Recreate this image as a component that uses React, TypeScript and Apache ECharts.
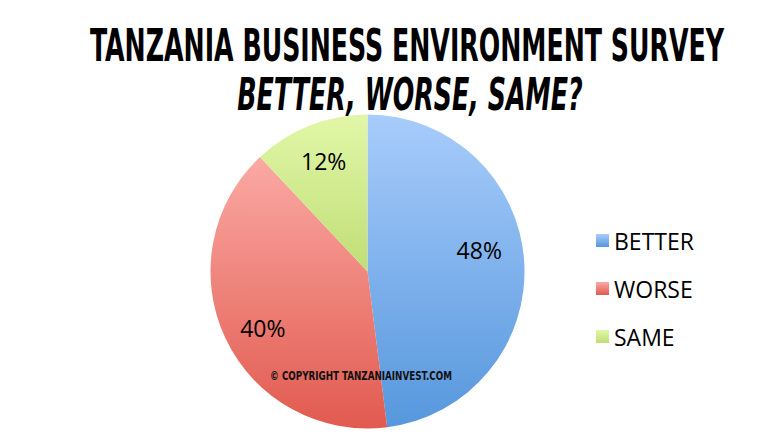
import React, { useEffect, useRef } from "react";
import * as echarts from "echarts";

const titleText = "TANZANIA BUSINESS ENVIRONMENT SURVEY";
const subtitleText = "BETTER, WORSE, SAME?";
const copyrightText = "© COPYRIGHT TANZANIAINVEST.COM";
const categories = ["BETTER", "WORSE", "SAME"];
const values = [48, 40, 12];
const topColors = ["#a8ccfb", "#fba9a4", "#e1f7a8"];
const bottomColors = ["#5697dd", "#e15a4f", "#c0de76"];
const labelOffsets = [[-7, -14], [3, 6], [0, 0]];

export default function App() {
  const ref = useRef<HTMLDivElement>(null);
  useEffect(() => {
    if (!ref.current) return;
    const chart = echarts.init(ref.current, undefined, { renderer: "svg" });
    const grad = (i: number) =>
      new echarts.graphic.LinearGradient(0, 0, 0, 1, [
        { offset: 0, color: topColors[i] },
        { offset: 1, color: bottomColors[i] },
      ]);
    const data = categories.map((name, i) => ({
      name,
      value: values[i],
      itemStyle: { color: grad(i) },
    }));
    const labelData = categories.map((name, i) => ({
      name,
      value: values[i],
      itemStyle: { color: "rgba(0,0,0,0)" },
      label: { offset: labelOffsets[i] },
    }));
    chart.setOption({
      animation: false,
      backgroundColor: "#ffffff",
      graphic: [
        {
          type: "text",
          x: 407,
          y: 46,
          scaleX: 0.638,
          style: {
            text: titleText,
            fontFamily: "DejaVu Sans Condensed",
            fontWeight: "bold",
            fontSize: 44,
            fill: "#000",
            align: "center",
            verticalAlign: "middle",
          },
        },
        {
          type: "text",
          x: 410,
          y: 95,
          scaleX: 0.64,
          style: {
            text: subtitleText,
            fontFamily: "DejaVu Sans Condensed",
            fontWeight: "bold",
            fontStyle: "italic",
            fontSize: 44,
            fill: "#000",
            align: "center",
            verticalAlign: "middle",
          },
          z: 10,
        },
        {
          type: "text",
          x: 361,
          y: 376,
          scaleX: 0.78,
          z: 100,
          style: {
            text: copyrightText,
            fontFamily: "DejaVu Sans Condensed",
            fontWeight: "bold",
            fontSize: 12.5,
            fill: "#111",
            align: "center",
            verticalAlign: "middle",
          },
        },
      ],
      legend: {
        orient: "vertical",
        left: 591,
        top: 224,
        itemWidth: 13,
        itemHeight: 13,
        itemGap: 25,
        icon: "rect",
        data: categories,
        textStyle: {
          fontFamily: "Open Sans",
          fontSize: 23,
          lineHeight: 23,
          color: "#000",
        },
      },
      series: [
        {
          type: "pie",
          center: [367.5, 271.5],
          radius: [0, 157],
          startAngle: 90,
          clockwise: true,
          label: { show: false },
          labelLine: { show: false },
          emphasis: { disabled: true },
          silent: true,
          itemStyle: { borderWidth: 0 },
          data,
        },
        {
          type: "pie",
          center: [367.5, 271.5],
          radius: [0, 232],
          startAngle: 90,
          clockwise: true,
          silent: true,
          emphasis: { disabled: true },
          label: {
            show: true,
            position: "inside",
            formatter: "{c}%",
            fontFamily: "Open Sans",
            fontSize: 23,
            color: "#000",
          },
          labelLine: { show: false },
          itemStyle: { borderWidth: 0 },
          data: labelData,
        },
      ],
    });
    return () => chart.dispose();
  }, []);
  return <div ref={ref} style={{ width: 777, height: 437, position: "absolute", left: 0, top: 0 }} />;
}
